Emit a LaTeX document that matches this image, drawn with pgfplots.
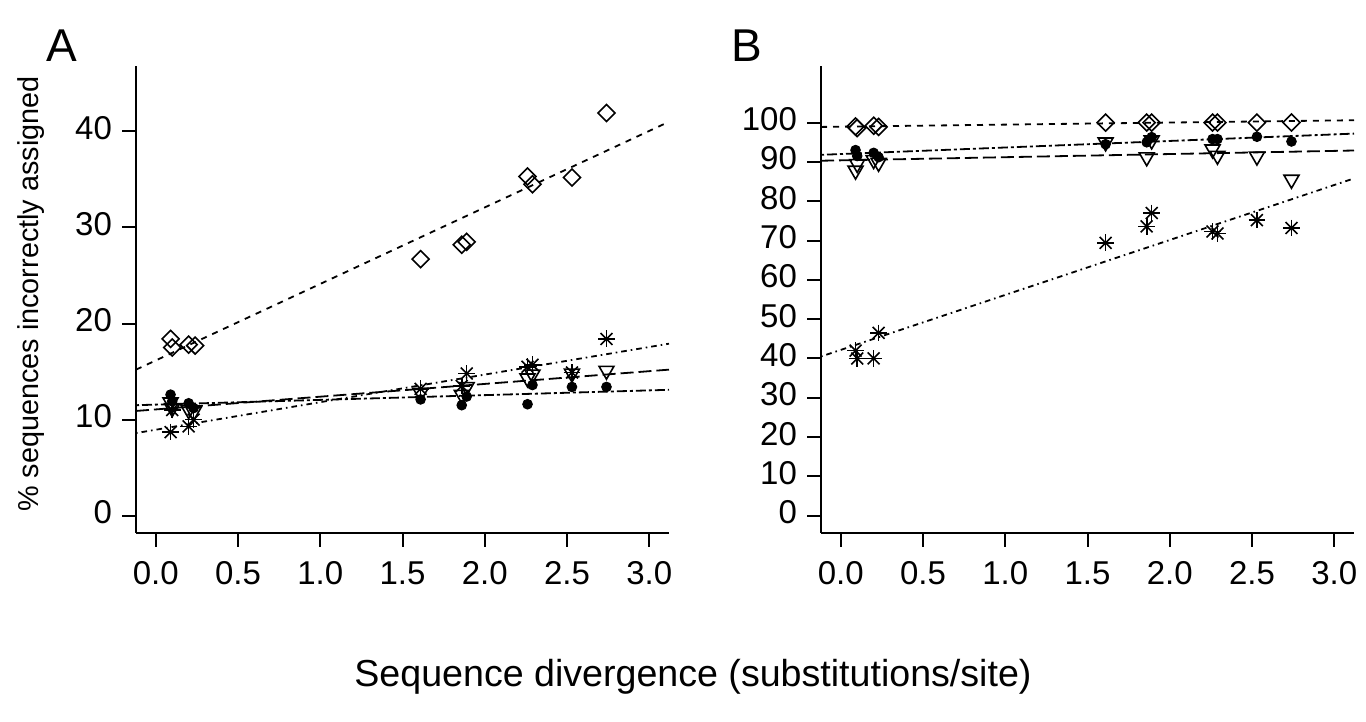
\documentclass[border=0pt]{standalone}
\usepackage{fontspec}
\setmainfont{Liberation Sans}
\usepackage{pgfplots}
\pgfplotsset{compat=1.18}

\pgfplotsset{
  rpanel/.style={
    scale only axis, width=266.5pt, height=233.5pt,
    anchor=south west,
    axis x line*=bottom, axis y line*=left,
    axis line style={line width=1pt, black},
    xmin=-0.12, xmax=3.12,
    xtick={0,0.5,1,1.5,2,2.5,3},
    xticklabels={0.0,0.5,1.0,1.5,2.0,2.5,3.0},
    typeset ticklabels with strut,
    xticklabel style={yshift=-1pt},
    yticklabel style={xshift=-1.5pt},
    tick align=outside, major tick length=7pt,
    tick style={line width=1pt, black},
    /pgf/number format/assume math mode=true,
    tick label style={font=\fontsize{16.5}{20}\selectfont},
    clip=true,
  },
  dia/.style={only marks, mark=square, mark size=3pt, mark options={rotate=45, line width=0.8pt, solid, fill=white}},
  dot/.style={only marks, mark=*, mark size=2.4pt, mark options={line width=0.5pt, solid, fill=black}},
  tri/.style={only marks, mark=triangle, mark size=4.3pt, mark options={rotate=180, line width=0.8pt, solid, fill=white}},
  astp/.style={only marks, mark=+, mark size=4.2pt, mark options={line width=0.8pt, solid}},
  astx/.style={only marks, mark=x, mark size=4.2pt, mark options={line width=0.8pt, solid}},
  ldashed/.style={no marks, line width=0.9pt, dash pattern=on 3pt off 3pt},
  llong/.style={no marks, line width=0.9pt, dash pattern=on 6.5pt off 2.5pt},
  ltwo/.style={no marks, line width=0.9pt, dash pattern=on 1.5pt off 1.5pt on 5pt off 1.5pt},
  ldotdash/.style={no marks, line width=0.9pt, dash pattern=on 0.8pt off 2pt on 2.8pt off 2pt},
}

\begin{document}
\begin{tikzpicture}
\path[use as bounding box] (0,0) rectangle (683pt,361pt);

% ---------------- Panel A ----------------
\begin{axis}[rpanel, at={(68pt,94.5pt)},
  ymin=-1.8, ymax=46.8, ytick={0,10,20,30,40}]
% regression lines
\addplot[ldashed]  coordinates {(-0.12,15.2) (3.12,41.0)};
\addplot[ldotdash] coordinates {(-0.12,8.6) (3.12,17.9)};
\addplot[llong]    coordinates {(-0.12,10.9) (3.12,15.2)};
\addplot[ltwo]     coordinates {(-0.12,11.5) (3.12,13.1)};
% diamonds
\addplot[dia] coordinates {(0.09,18.4) (0.10,17.5) (0.20,17.8) (0.24,17.7) (1.61,26.7) (1.86,28.2) (1.89,28.5) (2.26,35.3) (2.29,34.5) (2.53,35.2) (2.74,41.9)};
% triangles
\addplot[tri] coordinates {(0.09,11.8) (0.10,11.2) (0.20,11.0) (0.23,10.8) (1.61,12.8) (1.86,12.6) (1.89,13.4) (2.26,14.3) (2.29,14.7) (2.53,14.8) (2.74,15.1)};
% asterisks
\addplot[astp] coordinates {(0.09,8.7) (0.10,11.0) (0.20,9.3) (0.23,10.0) (1.61,13.2) (1.86,13.5) (1.89,14.8) (2.26,15.5) (2.29,15.7) (2.53,14.9) (2.74,18.4)};
\addplot[astx] coordinates {(0.09,8.7) (0.10,11.0) (0.20,9.3) (0.23,10.0) (1.61,13.2) (1.86,13.5) (1.89,14.8) (2.26,15.5) (2.29,15.7) (2.53,14.9) (2.74,18.4)};
% dots
\addplot[dot] coordinates {(0.09,12.6) (0.10,11.9) (0.20,11.7) (0.23,11.2) (1.61,12.1) (1.86,11.5) (1.89,12.4) (2.26,11.6) (2.29,13.6) (2.53,13.4) (2.74,13.4)};
\end{axis}

% ---------------- Panel B ----------------
\begin{axis}[rpanel, at={(410.5pt,94.5pt)},
  ymin=-4.4, ymax=114.4, ytick={0,10,20,30,40,50,60,70,80,90,100}]
\addplot[ldashed]  coordinates {(-0.12,98.9) (3.12,100.6)};
\addplot[ltwo]     coordinates {(-0.12,91.8) (3.12,97.2)};
\addplot[llong]    coordinates {(-0.12,90.3) (3.12,92.9)};
\addplot[ldotdash] coordinates {(-0.12,40.5) (3.12,85.8)};
\addplot[dia] coordinates {(0.09,99.0) (0.10,98.6) (0.20,99.2) (0.23,98.9) (1.61,100.0) (1.86,100.0) (1.89,100.0) (2.26,100.0) (2.29,100.0) (2.53,100.0) (2.74,100.0)};
\addplot[tri] coordinates {(0.09,87.8) (0.10,89.5) (0.20,90.5) (0.23,89.8) (1.61,95.0) (1.86,91.2) (1.89,95.5) (2.26,93.2) (2.29,91.6) (2.53,91.4) (2.74,85.5)};
\addplot[astp] coordinates {(0.09,42.0) (0.10,40.0) (0.20,40.0) (0.23,46.5) (1.61,69.4) (1.86,73.6) (1.89,77.0) (2.26,72.3) (2.29,71.8) (2.53,75.2) (2.74,73.2)};
\addplot[astx] coordinates {(0.09,42.0) (0.10,40.0) (0.20,40.0) (0.23,46.5) (1.61,69.4) (1.86,73.6) (1.89,77.0) (2.26,72.3) (2.29,71.8) (2.53,75.2) (2.74,73.2)};
\addplot[dot] coordinates {(0.09,93.0) (0.10,91.5) (0.20,92.3) (0.23,91.2) (1.61,94.5) (1.86,95.0) (1.89,96.3) (2.26,95.8) (2.29,95.8) (2.53,96.4) (2.74,95.2)};
\end{axis}

% ---------------- Texts ----------------
\node[font=\fontsize{23}{27}\selectfont] at (31pt,338pt) {A};
\node[font=\fontsize{23}{27}\selectfont] at (373.5pt,338pt) {B};
\node[font=\fontsize{14.4}{17}\selectfont, rotate=90] at (15.5pt,214pt) {\% sequences incorrectly assigned};
\node[font=\fontsize{18.8}{22}\selectfont] at (346.5pt,22.5pt) {Sequence divergence (substitutions/site)};
\end{tikzpicture}
\end{document}
